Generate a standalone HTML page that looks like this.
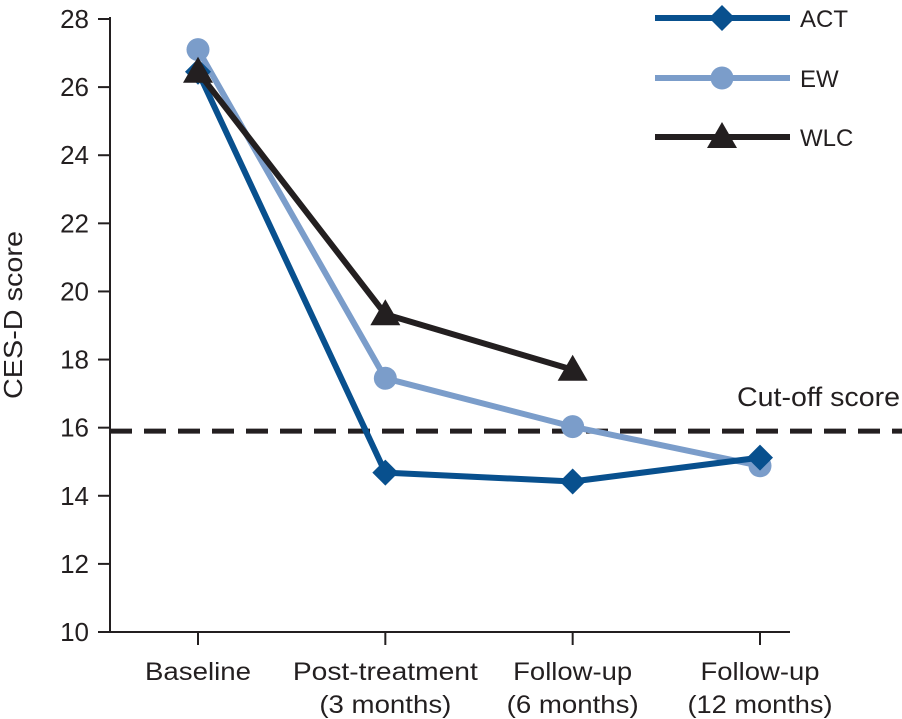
<!DOCTYPE html>
<html><head><meta charset="utf-8"><style>
html,body{margin:0;padding:0;background:#fff;}
svg{display:block;font-family:"Liberation Sans",sans-serif;}
</style></head><body>
<svg id="chart" width="902" height="719" viewBox="0 0 902 719"></svg>
<script>
const categories=[["Baseline"],["Post-treatment","(3 months)"],["Follow-up","(6 months)"],["Follow-up","(12 months)"]];
const actValues=[26.45,14.68,14.42,15.12];
const ewValues=[27.1,17.45,16.03,14.88];
const wlcValues=[26.45,19.33,17.7];
const yTicks=[10,12,14,16,18,20,22,24,26,28];
const cutoff=15.9;
const seriesNames=["ACT","EW","WLC"];

const NS="http://www.w3.org/2000/svg";
const svg=document.getElementById('chart');
function el(t,a,p){const e=document.createElementNS(NS,t);for(const k in a)e.setAttribute(k,a[k]);(p||svg).appendChild(e);return e;}
const xPos=[198,384,570,760];
function x(i){return xPos[0]+(xPos[3]-xPos[0])*i/3;}
function y(v){return 632-(v-10)*(632-19)/18;}

const axes=el('g',{});


el('line',{x1:110,y1:17,x2:110,y2:633,stroke:'#231f20','stroke-width':2},axes);
el('line',{x1:109,y1:632,x2:790,y2:632,stroke:'#231f20','stroke-width':2},axes);
yTicks.forEach(v=>{
  el('line',{x1:98,y1:y(v),x2:110,y2:y(v),stroke:'#231f20','stroke-width':2},axes);
  const t=el('text',{x:89,y:y(v)+9,'text-anchor':'end','font-size':26,fill:'#231f20'},axes);
  t.textContent=v;
  
  
});
categories.forEach((c,i)=>{
  el('line',{x1:x(i),y1:632,x2:x(i),y2:645,stroke:'#231f20','stroke-width':2},axes);
  c.forEach((s,j)=>{
    const t=el('text',{x:x(i),y:680+j*33,'text-anchor':'middle','font-size':25,fill:'#231f20',textLength:Math.round(s.length*13.2),lengthAdjust:'spacingAndGlyphs'},axes);
    t.textContent=s;
    
    
  });
});
const yt=el('text',{x:22,y:315,'text-anchor':'middle','font-size':26,fill:'#231f20',transform:'rotate(-90 22 315)',textLength:168,lengthAdjust:'spacingAndGlyphs'});
yt.textContent='CES-D score';



const cl=el('line',{x1:110,y1:y(cutoff),x2:902,y2:y(cutoff),stroke:'#231f20','stroke-width':5,'stroke-dasharray':'22 12'});


const ct=el('text',{x:900,y:406,'text-anchor':'end','font-size':27,fill:'#231f20',textLength:163,lengthAdjust:'spacingAndGlyphs'});
ct.textContent='Cut-off score';



function marker(type,cx,cy,color,g){
  if(type==='diamond') el('polygon',{points:`${cx},${cy-13} ${cx+13},${cy} ${cx},${cy+13} ${cx-13},${cy}`,fill:color},g);
  else if(type==='circle') el('circle',{cx:cx,cy:cy,r:11.5,fill:color},g);
  else el('polygon',{points:`${cx},${cy-15} ${cx+15},${cy+11} ${cx-15},${cy+11}`,fill:color},g);
}
const series=[
  {name:seriesNames[1],vals:ewValues,color:'#7b9dca',m:'circle'},
  {name:seriesNames[0],vals:actValues,color:'#08508e',m:'diamond'},
  {name:seriesNames[2],vals:wlcValues,color:'#231f20',m:'triangle'}
];
series.forEach(s=>{
  const g=el('g',{});
  
  
  el('polyline',{points:s.vals.map((v,i)=>x(i)+','+y(v)).join(' '),fill:'none',stroke:s.color,'stroke-width':6,'stroke-linejoin':'round'},g);
  s.vals.forEach((v,i)=>marker(s.m,x(i),y(v),s.color,g));
});
const legend=[{n:seriesNames[0],c:'#08508e',m:'diamond',y:18},{n:seriesNames[1],c:'#7b9dca',m:'circle',y:78},{n:seriesNames[2],c:'#231f20',m:'triangle',y:137}];
legend.forEach(l=>{
  const g=el('g',{});
  
  
  el('line',{x1:655,y1:l.y,x2:790,y2:l.y,stroke:l.c,'stroke-width':6},g);
  marker(l.m,722,l.y,l.c,g);
  const t=el('text',{x:800,y:l.y+9,'font-size':24,fill:'#231f20'},g);
  t.textContent=l.n;
});
</script>
</body></html>
